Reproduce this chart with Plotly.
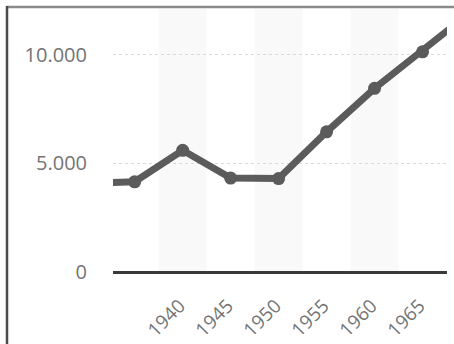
import plotly.graph_objects as go

# Yearly series (five-year steps)
years = [1930, 1935, 1940, 1945, 1950, 1955, 1960, 1965, 1970]
values = [4090, 4150, 5600, 4320, 4300, 6450, 8450, 10130, 11950]

# Axis ticks
x_ticks = [1940, 1945, 1950, 1955, 1960, 1965]
y_ticks = [0, 5000, 10000]
y_tick_text = ["0", "5.000", "10.000"]

# Shaded decade bands (centred on each decade year)
band_centres = [1940, 1950, 1960, 1970]

W, H = 454, 344
M_L, M_R, M_T, M_B = 113, 7, 9, 72
plot_w = W - M_L - M_R
plot_h = H - M_T - M_B

line_col = "#5b5b5b"
label_col = "#747474"

fig = go.Figure()
fig.add_trace(go.Scatter(
    x=years, y=values, mode="lines+markers",
    line=dict(color=line_col, width=7),
    marker=dict(color=line_col, size=13),
    cliponaxis=True, showlegend=False, hoverinfo="skip",
))

shapes = []
for c in band_centres:
    shapes.append(dict(type="rect", xref="x", yref="paper",
                       x0=c - 2.5, x1=c + 2.5, y0=0, y1=1,
                       fillcolor="#f9f9f9", line=dict(width=0), layer="below"))

# Outer frame lines (top and left)
def px_x(p):
    return (p - M_L) / plot_w

def px_y(q):
    return (H - M_B - q) / plot_h

shapes.append(dict(type="line", xref="paper", yref="paper",
                   x0=px_x(6), x1=px_x(W + 2), y0=px_y(7), y1=px_y(7),
                   line=dict(color="#8a8a8a", width=2.5)))
shapes.append(dict(type="line", xref="paper", yref="paper",
                   x0=px_x(7), x1=px_x(7), y0=px_y(6), y1=px_y(H + 2),
                   line=dict(color="#4a4a4a", width=2.5)))

fig.update_layout(
    width=W, height=H,
    margin=dict(l=M_L, r=M_R, t=M_T, b=M_B, pad=0, autoexpand=False),
    paper_bgcolor="white", plot_bgcolor="white",
    font=dict(family="Open Sans", size=19, color=label_col),
    shapes=shapes,
    xaxis=dict(
        range=[1932.74, 1967.55], tickvals=x_ticks, automargin=False,
        tickangle=-45, showgrid=False, zeroline=False,
        showline=False, ticks="", ticklabelstandoff=18,
        ticklabelshift=-3,
        tickfont=dict(size=19, color=label_col),
    ),
    yaxis=dict(
        range=[0, 12100], tickvals=y_ticks, ticktext=y_tick_text,
        automargin=False,
        showgrid=True, gridcolor="#d9d9d9", griddash="dot", gridwidth=1,
        zeroline=True, zerolinecolor="#3a3a3a", zerolinewidth=2.5,
        showline=False, ticks="", ticklabelstandoff=25,
        tickfont=dict(size=20, color=label_col),
    ),
)

fig.write_html("out.html")
